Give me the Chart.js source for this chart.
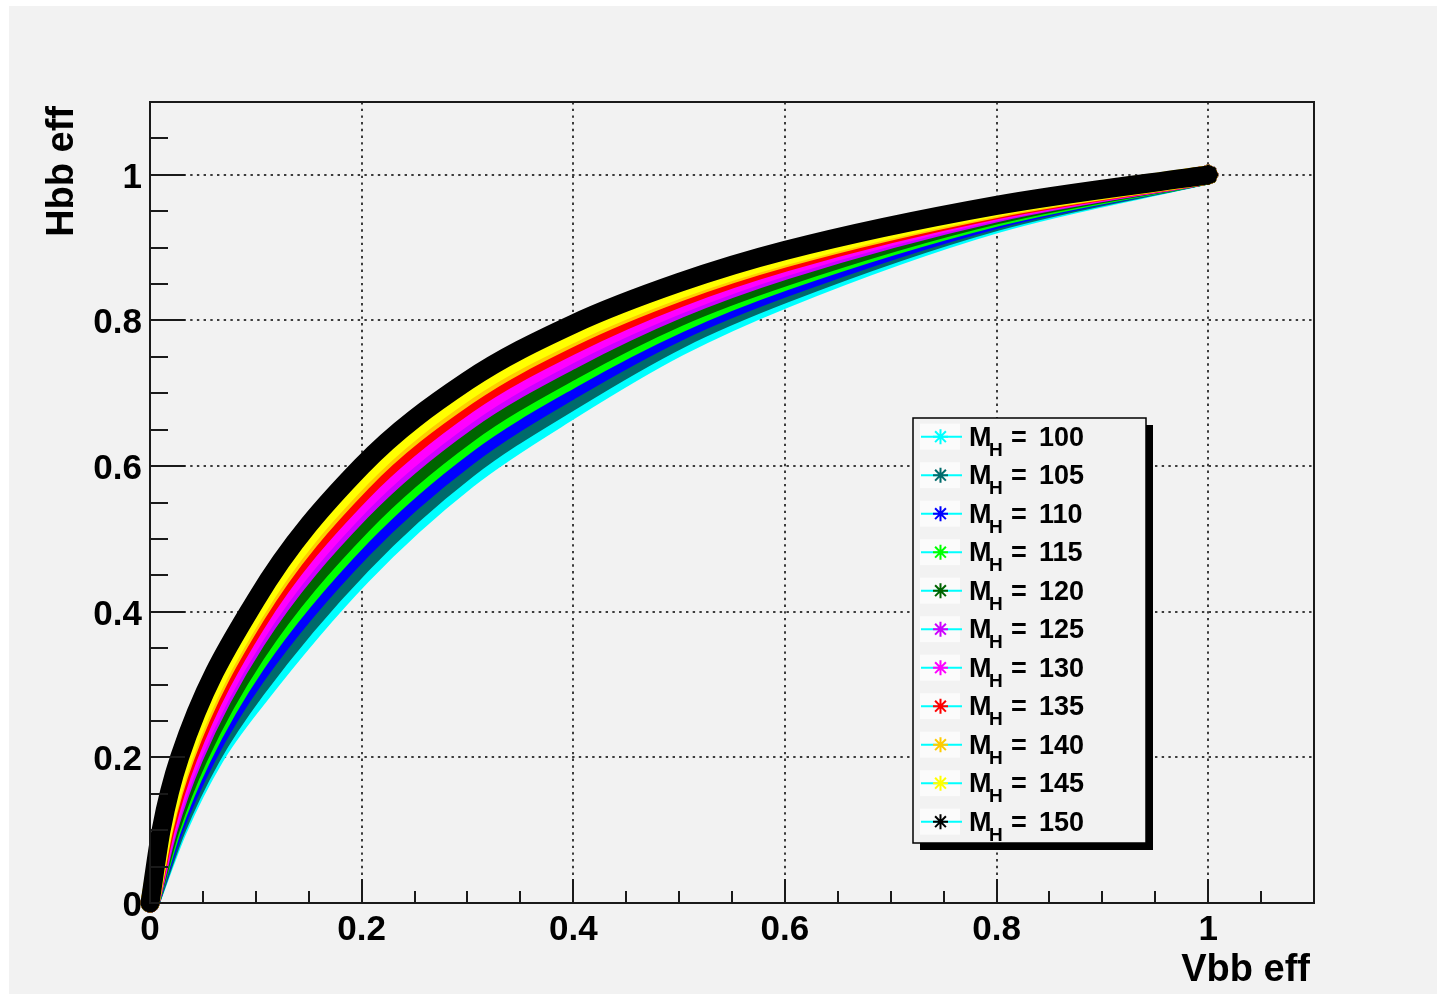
<!DOCTYPE html>
<html><head><meta charset="utf-8">
<script src="https://cdn.jsdelivr.net/npm/chart.js@4.4.0/dist/chart.umd.min.js"></script>
<style>
html,body{margin:0;padding:0;background:#fff;overflow:hidden;}
#c{position:absolute;left:0;top:0;}
</style></head><body>
<canvas id="c" width="1446" height="998"></canvas>
<script>
// ---- data ----
const massLabels = ['100','105','110','115','120','125','130','135','140','145','150'];
const seriesColors = ['#00ffff','#006b6b','#0000ff','#00ff00','#006400','#cc00ff','#ff00ff','#ff0000','#ffcc00','#ffff00','#000000'];
const xTickValues = [0, 0.2, 0.4, 0.6, 0.8, 1];
const yTickValues = [0, 0.2, 0.4, 0.6, 0.8, 1];
const xTickLabels = ['0','0.2','0.4','0.6','0.8','1'];
const yTickLabels = ['0','0.2','0.4','0.6','0.8','1'];
const xTitle = 'Vbb eff';
const yTitle = 'Hbb eff';

const mh100X = [0, 0.0260, 0.0610, 0.1, 0.2, 0.3, 0.4, 0.5, 0.6, 0.8, 1];
const mh100Y = [0, 0.1, 0.2, 0.279, 0.450, 0.582, 0.679, 0.764, 0.830, 0.933, 1];
const mh105X = [0, 0.0245, 0.0577, 0.1, 0.2, 0.3, 0.4, 0.5, 0.6, 0.8, 1];
const mh105Y = [0, 0.1, 0.2, 0.293, 0.465, 0.596, 0.691, 0.774, 0.837, 0.936, 1];
const mh110X = [0, 0.0224, 0.0534, 0.1, 0.2, 0.3, 0.4, 0.5, 0.6, 0.8, 1];
const mh110Y = [0, 0.1, 0.2, 0.311, 0.485, 0.613, 0.706, 0.785, 0.845, 0.939, 1];
const mh115X = [0, 0.0204, 0.0491, 0.1, 0.2, 0.3, 0.4, 0.5, 0.6, 0.8, 1];
const mh115Y = [0, 0.1, 0.2, 0.328, 0.504, 0.631, 0.721, 0.796, 0.854, 0.942, 1];
const mh120X = [0, 0.0189, 0.0458, 0.1, 0.2, 0.3, 0.4, 0.5, 0.6, 0.8, 1];
const mh120Y = [0, 0.1, 0.2, 0.342, 0.519, 0.644, 0.732, 0.805, 0.860, 0.945, 1];
const mh125X = [0, 0.0169, 0.0415, 0.1, 0.2, 0.3, 0.4, 0.5, 0.6, 0.8, 1];
const mh125Y = [0, 0.1, 0.2, 0.360, 0.539, 0.662, 0.747, 0.816, 0.869, 0.948, 1];
const mh130X = [0, 0.0158, 0.0392, 0.1, 0.2, 0.3, 0.4, 0.5, 0.6, 0.8, 1];
const mh130Y = [0, 0.1, 0.2, 0.369, 0.549, 0.671, 0.756, 0.822, 0.874, 0.950, 1];
const mh135X = [0, 0.0142, 0.0359, 0.1, 0.2, 0.3, 0.4, 0.5, 0.6, 0.8, 1];
const mh135Y = [0, 0.1, 0.2, 0.383, 0.564, 0.685, 0.767, 0.831, 0.880, 0.952, 1];
const mh140X = [0, 0.0128, 0.0330, 0.1, 0.2, 0.3, 0.4, 0.5, 0.6, 0.8, 1];
const mh140Y = [0, 0.1, 0.2, 0.395, 0.578, 0.697, 0.778, 0.839, 0.886, 0.954, 1];
const mh145X = [0, 0.0121, 0.0313, 0.1, 0.2, 0.3, 0.4, 0.5, 0.6, 0.8, 1];
const mh145Y = [0, 0.1, 0.2, 0.402, 0.585, 0.704, 0.783, 0.843, 0.889, 0.956, 1];
const mh150X = [0, 0.0105, 0.0280, 0.1, 0.2, 0.3, 0.4, 0.5, 0.6, 0.8, 1];
const mh150Y = [0, 0.1, 0.2, 0.416, 0.600, 0.717, 0.795, 0.852, 0.896, 0.958, 1];

const seriesX = [mh100X, mh105X, mh110X, mh115X, mh120X, mh125X, mh130X, mh135X, mh140X, mh145X, mh150X];
const seriesY = [mh100Y, mh105Y, mh110Y, mh115Y, mh120Y, mh125Y, mh130Y, mh135Y, mh140Y, mh145Y, mh150Y];

// ---- styling ----
const FONT = '"Liberation Sans", Arial, Helvetica, sans-serif';
const BG = '#f2f2f2';
const AXIS = '#1a1a1a';

const datasets = massLabels.map((m, i) => ({
  label: 'MH = ' + m,
  data: seriesX[i].map((x, k) => ({x: x, y: seriesY[i][k]})),
  order: massLabels.length - 1 - i,
  showLine: true,
  borderColor: seriesColors[i],
  backgroundColor: seriesColors[i],
  borderWidth: 19,
  borderCapStyle: 'round',
  borderJoinStyle: 'round',
  cubicInterpolationMode: 'monotone',
  pointStyle: 'star',
  pointRadius: ctx => (ctx.dataIndex === seriesX[i].length - 1 ? 10 : 0),
  pointBorderColor: seriesColors[i],
  pointBorderWidth: 3,
  pointHoverRadius: 0,
  fill: false,
  clip: 14
}));

function drawStar(c, x, y, r, color) {
  c.save();
  c.strokeStyle = color; c.lineWidth = 2;
  c.beginPath();
  c.moveTo(x - r, y); c.lineTo(x + r, y);
  c.moveTo(x, y - r); c.lineTo(x, y + r);
  const d = r * 0.72;
  c.moveTo(x - d, y - d); c.lineTo(x + d, y + d);
  c.moveTo(x - d, y + d); c.lineTo(x + d, y - d);
  c.stroke();
  c.restore();
}

const rootStyle = {
  id: 'rootStyle',
  beforeDraw(chart) {
    const c = chart.ctx, a = chart.chartArea;
    const xs = chart.scales.x, ys = chart.scales.y;
    c.save();
    c.fillStyle = '#ffffff'; c.fillRect(0, 0, chart.width, chart.height);
    c.fillStyle = BG; c.fillRect(9, 6, 1428, 988);
    c.strokeStyle = '#3c3c3c'; c.lineWidth = 2; c.setLineDash([2.4, 4.3]);
    xTickValues.forEach(v => {
      if (v === 0) return;
      const px = Math.round(xs.getPixelForValue(v));
      c.beginPath(); c.moveTo(px, a.top); c.lineTo(px, a.bottom); c.stroke();
    });
    yTickValues.forEach(v => {
      if (v === 0) return;
      const py = Math.round(ys.getPixelForValue(v));
      c.beginPath(); c.moveTo(a.left, py); c.lineTo(a.right, py); c.stroke();
    });
    c.restore();
  },
  afterDatasetsDraw(chart) {
    const c = chart.ctx, a = chart.chartArea;
    const xs = chart.scales.x, ys = chart.scales.y;
    c.save();
    c.setLineDash([]);
    c.strokeStyle = AXIS; c.lineWidth = 2;
    c.strokeRect(a.left, a.top, a.right - a.left, a.bottom - a.top);
    c.beginPath();
    for (let k = 1; k < 22; k++) {
      const v = k * 0.05;
      const major = k % 4 === 0;
      const px = Math.round(xs.getPixelForValue(v));
      c.moveTo(px, a.bottom); c.lineTo(px, a.bottom - (major ? 24 : 12));
      const py = Math.round(ys.getPixelForValue(v));
      c.moveTo(a.left, py); c.lineTo(a.left + (major ? 35 : 18), py);
    }
    c.stroke();
    c.fillStyle = '#000';
    c.font = 'bold 35px ' + FONT;
    c.textAlign = 'center'; c.textBaseline = 'alphabetic';
    xTickValues.forEach((v, i) => {
      c.fillText(xTickLabels[i], xs.getPixelForValue(v), 940);
    });
    c.textAlign = 'right';
    yTickValues.forEach((v, i) => {
      c.fillText(yTickLabels[i], a.left - 8, ys.getPixelForValue(v) + 13);
    });
    c.font = 'bold 38px ' + FONT;
    c.textAlign = 'right';
    c.fillText(xTitle, 1310, 981);
    c.save();
    c.translate(73, 106);
    c.rotate(-Math.PI / 2);
    c.textAlign = 'right';
    c.fillText(yTitle, 0, 0);
    c.restore();
    // legend
    const lx = 913, ly = 418, lw = 233, lh = 425;
    c.fillStyle = '#000'; c.fillRect(lx + 7, ly + 7, lw, lh);
    c.fillStyle = BG; c.fillRect(lx, ly, lw, lh);
    c.strokeStyle = '#000'; c.lineWidth = 1.5; c.strokeRect(lx, ly, lw, lh);
    massLabels.forEach((m, i) => {
      const cy = 436.7 + i * 38.5;
      c.fillStyle = '#fbfbfb'; c.fillRect(920, cy - 13, 40, 26);
      c.strokeStyle = '#00ffff'; c.lineWidth = 2;
      c.beginPath(); c.moveTo(921, cy); c.lineTo(962, cy); c.stroke();
      drawStar(c, 940.5, cy, 7.5, seriesColors[i]);
      c.fillStyle = '#000'; c.textAlign = 'left';
      c.font = 'bold 27px ' + FONT;
      c.fillText('M', 969, cy + 9);
      c.font = 'bold 19px ' + FONT;
      c.fillText('H', 989, cy + 19);
      c.font = 'bold 27px ' + FONT;
      c.fillText('=', 1011, cy + 9);
      c.fillText(m, 1039, cy + 9);
    });
    c.restore();
  }
};

new Chart(document.getElementById('c'), {
  type: 'scatter',
  data: { datasets: datasets },
  options: {
    responsive: false,
    animation: false,
    devicePixelRatio: 1,
    layout: { padding: { left: 150, right: 132, top: 102, bottom: 95 } },
    plugins: { legend: { display: false }, tooltip: { enabled: false } },
    scales: {
      x: { type: 'linear', min: 0, max: 1.1, display: false },
      y: { type: 'linear', min: 0, max: 1.1, display: false }
    }
  },
  plugins: [rootStyle]
});
</script>
</body></html>
